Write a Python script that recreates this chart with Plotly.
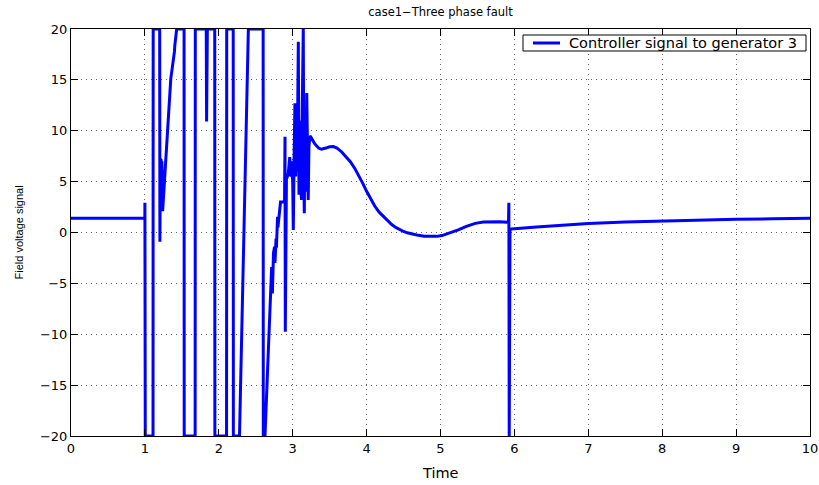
import plotly.graph_objects as go

# Controller output (field voltage signal) for generator 3, case 1: three phase fault
t_prefault = [0.0, 0.999]
v_prefault = [1.39, 1.39]

# fault period: controller output hitting its +/-20 limits
t_fault = [1.0, 1.005, 1.11, 1.112, 1.20, 1.203, 1.21, 1.215, 1.22, 1.225, 1.23, 1.24,
           1.33, 1.335, 1.35, 1.40, 1.405, 1.43, 1.53, 1.532, 1.68, 1.682, 1.83, 1.835,
           1.845, 1.945, 1.947, 2.105, 2.107, 2.195, 2.197, 2.28, 2.40, 2.60, 2.602]
v_fault = [2.93, -20, -20, 20, 20, -0.9, 7.3, 3.0, 7.2, 2.4, 7.0, 2.1,
           12.9, 12.4, 15.1, 17.8, 18.4, 20, 20, -20, -20, 20, 20, 10.9,
           20, 20, -20, -20, 20, 20, -20, -20, 20, 20, -20]

# recovery after fault: oscillatory phase
t_recovery = [2.625, 2.71, 2.715, 2.725, 2.74, 2.755, 2.76, 2.775, 2.78, 2.795, 2.80,
              2.835, 2.88, 2.89, 2.896, 2.90, 2.915, 2.94, 2.96, 2.975, 2.985, 3.0,
              3.008, 3.02, 3.03, 3.04, 3.05, 3.06, 3.076, 3.085, 3.095, 3.105, 3.12,
              3.13, 3.143, 3.15, 3.157, 3.165, 3.175, 3.19, 3.20, 3.21, 3.22, 3.234]
v_recovery = [-20, -5.0, -3.4, -6.0, -2.0, -1.4, -3.0, -0.6, -1.5, 1.55, 0.5,
              3.0, 3.0, 3.2, 9.4, -9.75, 5.2, 5.8, 7.4, 5.5, 7.0, 5.0,
              0.25, 8.0, 12.7, 5.5, 11.5, 6.0, 18.75, 3.7, 11.0, 4.5, 3.2,
              12.5, 20, 6.0, 1.9, 9.0, 4.0, 13.7, 5.0, 3.2, 8.5, 9.5]

# smooth swing
t_swing = [3.26, 3.30, 3.35, 3.39, 3.45, 3.50, 3.55, 3.60, 3.66, 3.72, 3.78, 3.84,
           3.89, 3.95, 4.00, 4.06, 4.11, 4.17, 4.23, 4.28, 4.34, 4.40, 4.45, 4.50,
           4.55, 4.61, 4.68, 4.78, 4.88, 4.95, 5.02, 5.12, 5.24, 5.35, 5.47, 5.58,
           5.69, 5.80, 5.92]
v_swing = [9.2, 8.7, 8.3, 8.18, 8.3, 8.42, 8.44, 8.3, 7.94, 7.5, 6.96, 6.3,
           5.65, 4.8, 4.05, 3.25, 2.6, 2.0, 1.55, 1.15, 0.78, 0.48, 0.27, 0.1,
           -0.03, -0.15, -0.25, -0.36, -0.41, -0.38, -0.3, -0.08, 0.25, 0.6, 0.90, 1.02,
           1.06, 1.05, 1.0]

# switching transient near t = 6 s and slow settling
t_tail = [5.925, 5.93, 5.94, 5.96, 6.0, 6.3, 6.62, 7.0, 7.5, 8.0, 8.5, 9.0, 9.5, 10.0]
v_tail = [2.93, -20, 0.3, 0.34, 0.38, 0.55, 0.71, 0.88, 1.03, 1.14, 1.23, 1.30, 1.35, 1.39]

x_ticks = [0, 1, 2, 3, 4, 5, 6, 7, 8, 9, 10]
y_ticks = [-20, -15, -10, -5, 0, 5, 10, 15, 20]

series_name = "Controller signal to generator 3"

t = t_prefault + t_fault + t_recovery + t_swing + t_tail
v = v_prefault + v_fault + v_recovery + v_swing + v_tail

line_color = "#0000ff"

fig = go.Figure()
fig.add_trace(go.Scatter(
    x=t, y=v, mode="lines",
    line=dict(color=line_color, width=3),
    name=series_name, showlegend=False,
))

axis_common = dict(
    showline=True, linecolor="black", linewidth=1, mirror="ticks",
    ticks="inside", ticklen=7, tickcolor="black", tickwidth=1,
    showgrid=True, gridcolor="#666666", gridwidth=1, griddash="1px,4px",
    zeroline=False, automargin=False,
    tickfont=dict(family="DejaVu Sans", size=13, color="black"),
)

# legend box (boxed entry in the upper right corner of the axes)
W, H = 819, 485
L, R, T, B = 71, 9, 29, 49
pw, ph = W - L - R, H - T - B


def px_x(px):
    return (px - L) / pw


def px_y(py):
    return 1 - (py - T) / ph


shapes = [
    dict(type="rect", xref="paper", yref="paper",
         x0=px_x(523), x1=px_x(806), y0=px_y(51), y1=px_y(35),
         line=dict(color="black", width=1), fillcolor="white", layer="above"),
    dict(type="line", xref="paper", yref="paper",
         x0=px_x(533), x1=px_x(560), y0=px_y(43), y1=px_y(43),
         line=dict(color=line_color, width=3), layer="above"),
]

fig.update_layout(
    width=W, height=H,
    margin=dict(l=L, r=R, t=T, b=B),
    paper_bgcolor="white", plot_bgcolor="white",
    title=dict(
        text="case1−Three phase fault",
        x=0.5, xref="paper", y=1 - 12 / H, yref="container",
        xanchor="center", yanchor="middle",
        font=dict(family="DejaVu Sans", size=11.5, color="black"),
    ),
    xaxis=dict(range=[0, 10], tickvals=x_ticks, **axis_common),
    yaxis=dict(range=[-20, 20], tickvals=y_ticks, ticklabelstandoff=0, **axis_common),
    shapes=shapes,
    annotations=[
        dict(text=series_name, x=px_x(567), y=px_y(43), xref="paper", yref="paper",
             xanchor="left", yanchor="middle", showarrow=False,
             font=dict(family="DejaVu Sans", size=14.5, color="black")),
        dict(text="Time", x=0.5, y=px_y(473), xref="paper", yref="paper",
             xanchor="center", yanchor="middle", showarrow=False,
             font=dict(family="DejaVu Sans", size=14.5, color="black")),
        dict(text="Field voltage signal", x=px_x(18), y=0.5,
             xref="paper", yref="paper", textangle=-90,
             xanchor="center", yanchor="middle", showarrow=False,
             font=dict(family="Liberation Sans", size=11, color="black")),
    ],
)

fig.write_html("out.html")
